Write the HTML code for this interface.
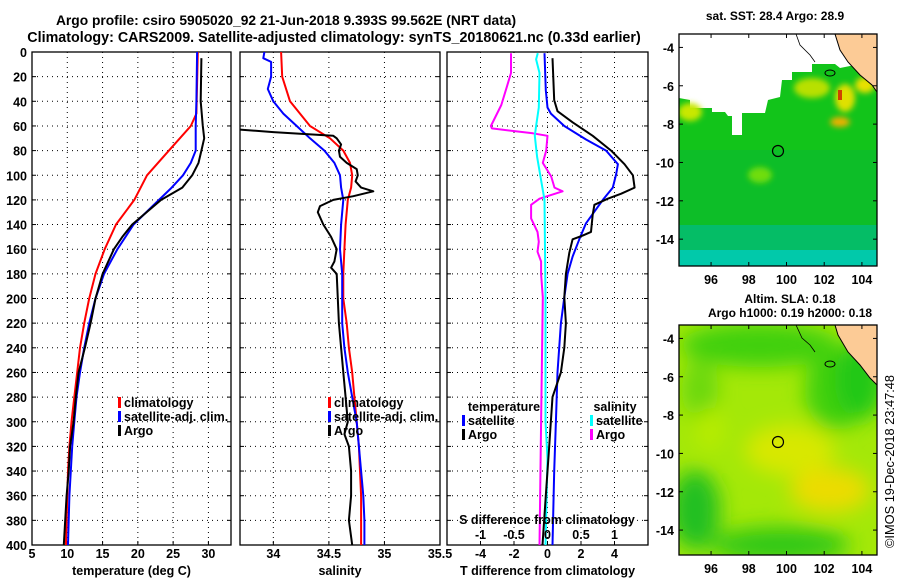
<!DOCTYPE html>
<html><head><meta charset="utf-8"><style>
html,body{margin:0;padding:0;background:#fff;}
svg{display:block;font-family:"Liberation Sans",Arial,sans-serif;font-weight:bold;}
</style></head><body>
<svg id="c" width="900" height="580" viewBox="0 0 900 580" xmlns="http://www.w3.org/2000/svg">
<defs>
<filter id="blur" x="-20%" y="-20%" width="140%" height="140%"><feGaussianBlur stdDeviation="10"/></filter>
<filter id="blur2"><feGaussianBlur stdDeviation="3"/></filter>
<clipPath id="clipTop"><rect x="679" y="34" width="198" height="232"/></clipPath>
<clipPath id="clipBot"><rect x="679" y="325" width="198" height="230"/></clipPath>
<clipPath id="clipP1"><rect x="32" y="52" width="199" height="493"/></clipPath>
<clipPath id="clipP2"><rect x="240" y="52" width="200" height="493"/></clipPath>
<clipPath id="clipP3"><rect x="447" y="52" width="201" height="493"/></clipPath>
</defs>
<text x="286" y="25" font-size="13.8" text-anchor="middle">Argo profile: csiro 5905020_92 21-Jun-2018 9.393S 99.562E (NRT data)</text>
<text x="334" y="42" font-size="14.3" text-anchor="middle">Climatology: CARS2009. Satellite-adjusted climatology: synTS_20180621.nc (0.33d earlier)</text>

<!-- top map -->
<g>
<text x="775" y="20" font-size="12" text-anchor="middle">sat. SST: 28.4 Argo: 28.9</text>
<g clip-path="url(#clipTop)">
<rect x="679" y="34" width="198" height="232" fill="#fff"/>
<path d="M679,98 L690,100 L690,108 L712,108 L712,112 L725,112 L728,116 L732,116 L732,135 L742,135 L742,113 L765,113 L768,100 L780,97 L782,80 L792,80 L792,72 L812,72 L812,64 L835,64 L840,68 L855,65 L870,72 L877,80 L877,266 L679,266 Z" fill="#12c41a"/>
<rect x="679" y="150" width="198" height="80" fill="#08b83a" opacity="0.45"/>
<rect x="679" y="225" width="198" height="41" fill="#00bb88" opacity="0.7"/>
<rect x="679" y="250" width="198" height="16" fill="#00ccbb" opacity="0.8"/>
<g filter="url(#blur2)">
<ellipse cx="690" cy="112" rx="12" ry="9" fill="#c8e800"/>
<ellipse cx="812" cy="88" rx="18" ry="10" fill="#b8e000"/>
<ellipse cx="845" cy="98" rx="10" ry="14" fill="#e0e000"/>
<ellipse cx="840" cy="122" rx="10" ry="5" fill="#f0b000"/>
<ellipse cx="760" cy="175" rx="12" ry="8" fill="#70dd10"/>
<ellipse cx="865" cy="85" rx="10" ry="8" fill="#e8e000"/>
</g>
<rect x="838" y="90" width="4" height="10" fill="#d04000"/>
<path d="M835,34 L877,34 L877,92 L872,85 L860,75 L848,62 L840,50 Z" fill="#fccb96" stroke="#000" stroke-width="1"/>
<path d="M796,34 L800,45 L810,55 L815,62" fill="none" stroke="#000" stroke-width="0.8"/>
<ellipse cx="830" cy="73" rx="5" ry="3" fill="none" stroke="#000" stroke-width="1"/>
<circle cx="778" cy="151" r="5.5" fill="none" stroke="#000" stroke-width="1.2"/>
</g>
<rect x="679" y="34" width="198" height="232" fill="none" stroke="#000" stroke-width="1.3"/>
</g>

<!-- bottom map -->
<g>
<text x="790" y="303" font-size="12" text-anchor="middle">Altim. SLA: 0.18</text>
<text x="790" y="317" font-size="12" text-anchor="middle">Argo h1000: 0.19 h2000: 0.18</text>
<g clip-path="url(#clipBot)">
<rect x="679" y="325" width="198" height="230" fill="#a4e808"/>
<g filter="url(#blur)">
<ellipse cx="760" cy="345" rx="80" ry="22" fill="#40d010"/>
<ellipse cx="700" cy="390" rx="18" ry="30" fill="#6ad810"/>
<ellipse cx="835" cy="390" rx="30" ry="40" fill="#40d010"/>
<ellipse cx="860" cy="380" rx="25" ry="40" fill="#20c818"/>
<ellipse cx="790" cy="450" rx="45" ry="25" fill="#d8e800"/>
<ellipse cx="830" cy="490" rx="40" ry="22" fill="#ecdc00"/>
<ellipse cx="695" cy="510" rx="25" ry="40" fill="#20c020"/>
<ellipse cx="780" cy="545" rx="70" ry="18" fill="#30c818"/>
<ellipse cx="710" cy="430" rx="14" ry="22" fill="#b8ec00"/>
</g>
<path d="M835,325 L877,325 L877,385 L870,378 L860,365 L848,352 L838,335 Z" fill="#fccb96" stroke="#000" stroke-width="1"/>
<path d="M796,325 L802,338 L810,345 L815,352" fill="none" stroke="#000" stroke-width="0.8"/>
<ellipse cx="830" cy="364" rx="5" ry="3" fill="none" stroke="#000" stroke-width="1"/>
<circle cx="778" cy="442" r="5.5" fill="none" stroke="#000" stroke-width="1.2"/>
</g>
<rect x="679" y="325" width="198" height="230" fill="none" stroke="#000" stroke-width="1.3"/>
</g>
<text transform="translate(894,548) rotate(-90)" font-size="12.8" font-weight="normal">©IMOS 19-Dec-2018 23:47:48</text>
<g id="gen"></g>
</svg>
<script>
// ---------- data ----------
const tempClimDepth = [0,50,60,80,100,120,140,160,180,200,220,240,260,280,300,320,340,360,380,400];
const tempClim = [28.5,28.3,27.5,24.4,21.3,19.5,16.9,15.3,14.0,13.1,12.4,11.8,11.4,11.0,10.6,10.3,10.1,10.0,9.9,9.8];
const tempSatDepth = [0,40,60,80,90,100,110,120,140,160,180,200,220,240,260,280,300,320,340,360,380,400];
const tempSat = [28.4,28.3,28.2,28.2,27.5,26.4,24.8,23.0,19.4,17.1,15.2,14.0,13.1,12.4,11.8,11.3,11.0,10.7,10.5,10.3,10.2,10.1];
const tempArgoDepth = [5,40,60,70,80,90,100,110,120,140,150,160,180,200,220,240,260,280,300,320,340,360,380,400];
const tempArgo = [29.0,28.9,29.2,29.4,29.0,28.6,27.7,26.3,23.3,19.2,17.8,16.6,15.0,14.0,13.3,12.5,11.6,11.2,10.9,10.4,10.2,9.9,9.7,9.5];

const salClimDepth = [0,20,40,60,70,80,90,100,110,120,140,160,180,200,220,240,260,280,300,320,340,360,400];
const salClim = [34.07,34.08,34.15,34.33,34.51,34.63,34.69,34.71,34.70,34.67,34.65,34.64,34.63,34.63,34.66,34.68,34.71,34.73,34.75,34.77,34.78,34.79,34.79];
const salSatDepth = [0,5,8,20,30,40,50,60,70,80,90,100,110,120,140,160,180,220,240,260,280,300,320,340,360,380,400];
const salSat = [33.92,33.91,33.98,33.98,33.95,34.0,34.09,34.21,34.33,34.46,34.55,34.6,34.61,34.63,34.61,34.6,34.62,34.62,34.64,34.67,34.71,34.75,34.77,34.79,34.81,34.82,34.82];
const salArgoDepth = [63,65,68,70,75,80,85,90,95,100,105,110,113,117,120,125,130,140,150,160,170,175,180,200,220,240,260,280,300,310,320,340,360,380,400];
const salArgo = [33.7,34.0,34.54,34.57,34.61,34.59,34.6,34.66,34.75,34.76,34.74,34.79,34.9,34.72,34.54,34.42,34.40,34.45,34.52,34.57,34.55,34.52,34.57,34.58,34.59,34.61,34.63,34.65,34.67,34.64,34.68,34.70,34.70,34.68,34.71];

const tdSatDepth = [1,31,45,50,60,71,80,91,99,110,120,139,152,166,180,199,220,260,300,340,400];
const tdSat = [-0.18,-0.1,0,0.2,1.0,2.3,3.5,4.2,4.1,3.9,3.3,2.3,1.9,1.5,1.2,1.0,0.8,0.6,0.5,0.4,0.3];
const tdArgoDepth = [5,39,48,57,68,80,91,100,110,115,119,124,132,146,149,152,163,180,199,220,240,260,280,320,360,400];
const tdArgo = [0.3,0.4,0.6,1.5,2.7,3.8,4.6,5.1,5.2,4.4,3.6,2.8,2.7,2.6,2.1,1.5,1.3,1.1,1.0,1.1,1.0,0.8,0.3,0.1,-0.1,-0.3];
const sdSatDepth = [1,6,17,45,60,68,85,104,120,200,300,330,400];
const sdSat = [-0.145,-0.17,-0.12,-0.13,-0.17,-0.19,-0.155,-0.095,-0.045,-0.03,-0.03,0,-0.03];
const sdArgoDepth = [1,17,27,43,60,62,66,68,80,90,101,110,113,119,124,135,146,154,162,170,180,199,300,400];
const sdArgo = [-0.545,-0.545,-0.6,-0.69,-0.845,-0.83,-0.22,0,-0.02,-0.07,0.055,0.105,0.225,-0.12,-0.245,-0.245,-0.15,-0.13,-0.15,-0.095,-0.095,-0.07,-0.095,-0.12];

const depthTicks = [0,20,40,60,80,100,120,140,160,180,200,220,240,260,280,300,320,340,360,380,400];
const tempTicks = [5,10,15,20,25,30];
const salTicks = [34,34.5,35,35.5];
const tdTicks = [-4,-2,0,2,4];
const sdTicks = [-1,-0.5,0,0.5,1];
const lonTicks = [96,98,100,102,104];
const latTicks = [-4,-6,-8,-10,-12,-14];

// ---------- scales ----------
const Y0=52, Y1=545;
const yD = d => Y0 + d/400*(Y1-Y0);
const xT = t => 32 + (t-5)/(33.2-5)*199;
const xS = s => 240 + (s-33.7)/1.8*200;
const xTD = t => 447 + (t+6)/12*201;
const xSD = s => xTD(s*4);
const lonX = l => 679 + (l-94.3)/(104.8-94.3)*198;
const latYTop = l => 34 + (-3.3-l)/(15.4-3.3)*232;
const latYBot = l => 325 + (-3.3-l)/(15.3-3.3)*230;

const NS='http://www.w3.org/2000/svg';
const gen=document.getElementById('gen');
function mk(tag,attrs,parent){const e=document.createElementNS(NS,tag);for(const k in attrs)e.setAttribute(k,attrs[k]);(parent||gen).appendChild(e);return e;}
function txt(x,y,s,size,anchor,parent){const e=mk('text',{x:x,y:y,'font-size':size,'text-anchor':anchor},parent);e.textContent=s;return e;}

function panel(name,x0,x1,xticks,xf,xlabels,title,clip){
  const g=mk('g',{});
  
  
  depthTicks.forEach(d=>{
    const y=yD(d);
    if(d>0&&d<400){const l=mk('line',{x1:x0,x2:x1,y1:y,y2:y,stroke:'#000','stroke-width':1,'stroke-dasharray':'1,4'},g);
    
    }
    mk('line',{x1:x0,x2:x0+4,y1:y,y2:y,stroke:'#000'},g);
    mk('line',{x1:x1-4,x2:x1,y1:y,y2:y,stroke:'#000'},g);
  });
  xticks.forEach((v,i)=>{
    const x=xf(v);
    if(x>x0+2&&x<x1-2){mk('line',{x1:x,x2:x,y1:Y0,y2:Y1,stroke:'#000','stroke-dasharray':'1,4'},g);}
    mk('line',{x1:x,x2:x,y1:Y1-4,y2:Y1,stroke:'#000'},g);
    const t=txt(x,558,xlabels[i],12.5,'middle',g);
    
    
  });
  const tt=txt((x0+x1)/2,575,title,12.5,'middle',g);
  
  
  const fr=mk('rect',{x:x0,y:Y0,width:x1-x0,height:Y1-Y0,fill:'none',stroke:'#000','stroke-width':1.3},g);
  
  
  return g;
}
function series(name,depths,vals,xf,color,clip,w){
  const pts=depths.map((d,i)=>xf(vals[i]).toFixed(1)+','+yD(d).toFixed(1)).join(' ');
  const p=mk('polyline',{points:pts,fill:'none',stroke:color,'stroke-width':w||2,'clip-path':'url(#'+clip+')','stroke-linejoin':'round'});
  
  
}
function legendEntry(name,x,y,color,label){
  const g=mk('g',{});
  
  
  mk('rect',{x:x,y:y-10,width:3,height:11,fill:color},g);
  txt(x+6,y,label,12.5,'start',g);
}

depthTicks.forEach(d=>{
  const t=txt(27,yD(d)+5,String(d),12.5,'end');
  
  
});

panel('temperature',32,231,tempTicks,xT,tempTicks.map(String),'temperature (deg C)');
series('temp-climatology-line',tempClimDepth,tempClim,xT,'#ff0000','clipP1');
series('temp-satellite-line',tempSatDepth,tempSat,xT,'#0000ff','clipP1');
series('temp-argo-line',tempArgoDepth,tempArgo,xT,'#000000','clipP1');
legendEntry('legend-climatology',118,407,'#ff0000','climatology');
legendEntry('legend-satellite-adj',118,421,'#0000ff','satellite-adj. clim.');
legendEntry('legend-argo',118,435,'#000000','Argo');

panel('salinity',240,440,salTicks,xS,['34','34.5','35','35.5'],'salinity');
series('sal-climatology-line',salClimDepth,salClim,xS,'#ff0000','clipP2');
series('sal-satellite-line',salSatDepth,salSat,xS,'#0000ff','clipP2');
series('sal-argo-line',salArgoDepth,salArgo,xS,'#000000','clipP2');
legendEntry('legend-sal-climatology',328,407,'#ff0000','climatology');
legendEntry('legend-sal-satellite-adj',328,421,'#0000ff','satellite-adj. clim.');
legendEntry('legend-sal-argo',328,435,'#000000','Argo');

panel('difference',447,648,tdTicks,xTD,tdTicks.map(String),'T difference from climatology');
series('sdiff-argo-line',sdArgoDepth,sdArgo,xSD,'#ff00ff','clipP3');
series('sdiff-satellite-line',sdSatDepth,sdSat,xSD,'#00ffff','clipP3');
series('tdiff-satellite-line',tdSatDepth,tdSat,xTD,'#0000ff','clipP3');
series('tdiff-argo-line',tdArgoDepth,tdArgo,xTD,'#000000','clipP3');
(function(){const t=txt(504,411,'temperature',12.5,'middle');})();
(function(){const t=txt(615,411,'salinity',12.5,'middle');})();
legendEntry('legend-tdiff-satellite',462,425,'#0000ff','satellite');
legendEntry('legend-tdiff-argo',462,439,'#000000','Argo');
legendEntry('legend-sdiff-satellite',590,425,'#00ffff','satellite');
legendEntry('legend-sdiff-argo',590,439,'#ff00ff','Argo');
(function(){const t=txt(547,524,'S difference from climatology',12.5,'middle');})();
sdTicks.forEach(v=>{const t=txt(xSD(v),539,String(v),12.5,'middle');});

function mapTicks(name,y0,y1,latY,labY){
  lonTicks.forEach(l=>{const x=lonX(l);
    mk('line',{x1:x,x2:x,y1:y0,y2:y0+4,stroke:'#000'});mk('line',{x1:x,x2:x,y1:y1-4,y2:y1,stroke:'#000'});
    const t=txt(x,labY,String(l),12.5,'middle');});
  latTicks.forEach(l=>{const y=latY(l);
    mk('line',{x1:679,x2:683,y1:y,y2:y,stroke:'#000'});mk('line',{x1:873,x2:877,y1:y,y2:y,stroke:'#000'});
    const t=txt(674,y+5,String(l),12.5,'end');});
}
mapTicks('sst-map',34,266,latYTop,284);
mapTicks('sla-map',325,555,latYBot,573);
</script>
</body></html>
